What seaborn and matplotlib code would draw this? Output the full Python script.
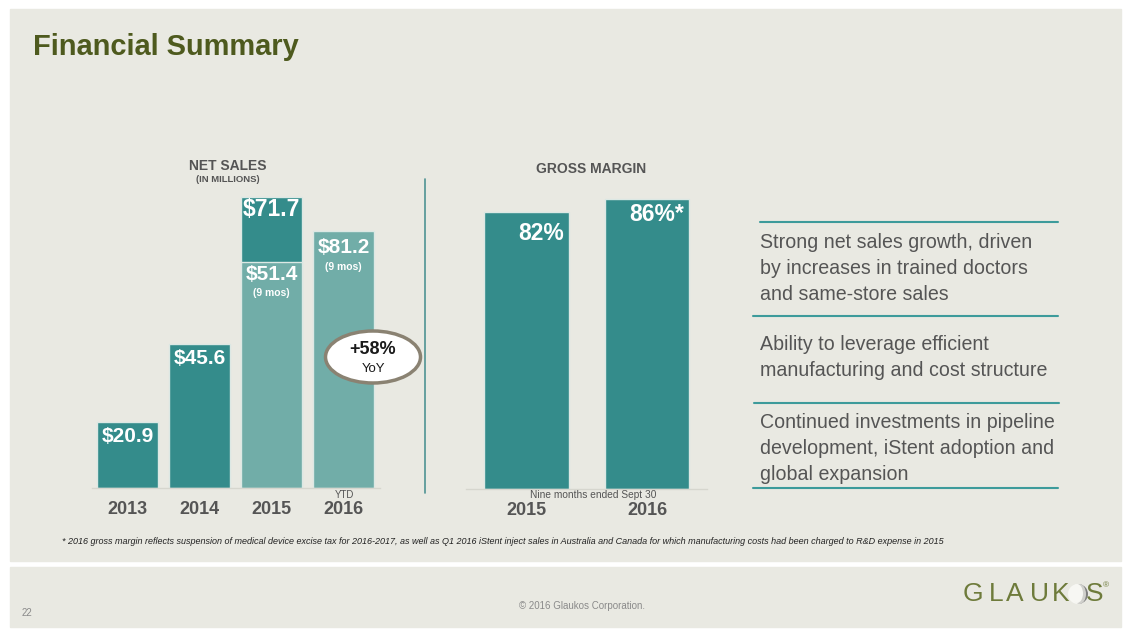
import matplotlib
matplotlib.use("Agg")
import matplotlib.pyplot as plt
import seaborn as sns
import pandas as pd
from matplotlib.patches import Rectangle, Ellipse, Circle, Wedge
from matplotlib.lines import Line2D

# ---------------- data ----------------
ns_years = ["2013", "2014", "2015", "2016"]
ns_labels = ["$20.9", "$45.6", "$71.7", "$81.2"]
# bar heights as drawn in the reference (2015 bars are not to scale there)
ns_drawn = [20.9, 45.6, 92.1, 81.2]
ns9_year = ["2015"]
ns9_label = ["$51.4"]
ns9_drawn = [71.5]
ns_sub_year = ["2015", "2016"]
ns_sub_labels = ["(9 mos)", "(9 mos)"]

gm_years = ["2015", "2016"]
gm_values = [82, 86]
gm_labels = ["82%", "86%*"]

bullets = [
    ["Strong net sales growth, driven", "by increases in trained doctors", "and same-store sales"],
    ["Ability to leverage efficient", "manufacturing and cost structure"],
    ["Continued investments in pipeline", "development, iStent adoption and", "global expansion"],
]
footnote = ("* 2016 gross margin reflects suspension of medical device excise tax for 2016-2017, as well as "
            "Q1 2016 iStent inject sales in Australia and Canada for which manufacturing costs had been "
            "charged to R&D expense in 2015")

# ---------------- style ----------------
sns.set_theme(style="white")
plt.rcParams["font.family"] = ["Liberation Sans", "DejaVu Sans"]

DARK = "#348C8B"
LIGHT = "#71ADA8"
PANEL = "#E9E9E2"
GRAY = "#555555"
TEAL_LINE = "#3D9B9B"

W, H = 1129, 635
fig = plt.figure(figsize=(W / 100, H / 100), dpi=100, facecolor="white")


def fx(px):
    return px / W


def fy(py):
    return 1 - py / H


def pt(px):
    return px * 0.72


# background panels
fig.add_artist(Rectangle((fx(10), fy(561)), fx(1121) - fx(10), fy(9) - fy(561),
                         transform=fig.transFigure, color=PANEL, zorder=-5))
fig.add_artist(Rectangle((fx(10), fy(627)), fx(1121) - fx(10), fy(567) - fy(627),
                         transform=fig.transFigure, color=PANEL, zorder=-5))

# title
fig.text(fx(33), fy(47), "Financial Summary", fontsize=20.9, fontweight="bold",
         color="#4E5A1E", ha="left", va="center")

# ---------------- net sales axes ----------------
ax = fig.add_axes([fx(91.5), fy(488), fx(379.5) - fx(91.5), fy(172) - fy(488)])
ax.patch.set_alpha(0)
df = pd.DataFrame({"year": ns_years, "h": ns_drawn})
sns.barplot(data=df, x="year", y="h", hue="year", order=ns_years,
            palette=[DARK, DARK, DARK, LIGHT], legend=False, width=0.847, saturation=1,
            edgecolor="#DCE8E4", linewidth=1, ax=ax)
df9 = pd.DataFrame({"year": ns9_year, "h": ns9_drawn})
sns.barplot(data=df9, x="year", y="h", order=ns_years, color=LIGHT, saturation=1,
            width=0.847, edgecolor="#DCE8E4", linewidth=1, ax=ax)
ax.set_xlim(-0.5, 3.5)
ax.set_ylim(0, 100)
ax.set_xlabel("")
ax.set_ylabel("")
ax.set_yticks([])
for s in ["top", "left", "right"]:
    ax.spines[s].set_visible(False)
ax.spines["bottom"].set_color("#D6D6CE")
ax.spines["bottom"].set_linewidth(1)
ax.tick_params(axis="x", length=0, pad=pt(13), labelsize=13, labelcolor=GRAY)
for t in ax.get_xticklabels():
    t.set_fontweight("bold")

label_off = [15, 15, 13, 16]
label_size = [15, 15, 16.5, 15]
for i, (lab, h) in enumerate(zip(ns_labels, ns_drawn)):
    ax.annotate(lab, (i, h), xytext=(0, -pt(label_off[i])), textcoords="offset points",
                ha="center", va="center", color="white", fontsize=label_size[i], fontweight="bold")
for yr, lab, h in zip(ns9_year, ns9_label, ns9_drawn):
    i = ns_years.index(yr)
    ax.annotate(lab, (i, h), xytext=(0, -pt(12)), textcoords="offset points",
                ha="center", va="center", color="white", fontsize=15, fontweight="bold")
sub_ref = {"2015": (ns9_drawn[0], 31), "2016": (ns_drawn[3], 36)}
for yr, lab in zip(ns_sub_year, ns_sub_labels):
    i = ns_years.index(yr)
    h, off = sub_ref[yr]
    ax.annotate(lab, (i, h), xytext=(0, -pt(off)), textcoords="offset points",
                ha="center", va="center", color="white", fontsize=7.5, fontweight="bold")

fig.text(fx(345), fy(495), "YTD", fontsize=7, color=GRAY, ha="center", va="center")
fig.text(fx(228), fy(166), "NET SALES", fontsize=10, fontweight="bold", color=GRAY,
         ha="center", va="center")
fig.text(fx(228), fy(180), "(IN MILLIONS)", fontsize=6.8, fontweight="bold", color=GRAY,
         ha="center", va="center")

# YoY ellipse
fig.add_artist(Ellipse((fx(373), fy(357)), fx(95), 52 / H, transform=fig.transFigure,
                       facecolor="white", edgecolor="#8A8272", linewidth=2.5, zorder=5))
fig.text(fx(373), fy(349), "+58%", fontsize=13, fontweight="bold", color="#1A1A1A",
         ha="center", va="center", zorder=6)
fig.text(fx(373), fy(369), "YoY", fontsize=9.5, color="#1A1A1A",
         ha="center", va="center", zorder=6)

# separator
fig.add_artist(Line2D([fx(425), fx(425)], [fy(179), fy(493)], transform=fig.transFigure,
                      color="#4F9393", linewidth=1.2))

# ---------------- gross margin axes ----------------
ax2 = fig.add_axes([fx(466.25), fy(489), fx(707.25) - fx(466.25), fy(151.5) - fy(489)])
ax2.patch.set_alpha(0)
dg = pd.DataFrame({"year": gm_years, "v": gm_values})
sns.barplot(data=dg, x="year", y="v", order=gm_years, color=DARK, saturation=1,
            width=0.705, edgecolor="#DCE8E4", linewidth=1, ax=ax2)
ax2.set_xlim(-0.5, 1.5)
ax2.set_ylim(0, 100)
ax2.set_xlabel("")
ax2.set_ylabel("")
ax2.set_yticks([])
for s in ["top", "left", "right"]:
    ax2.spines[s].set_visible(False)
ax2.spines["bottom"].set_color("#D6D6CE")
ax2.spines["bottom"].set_linewidth(1)
ax2.tick_params(axis="x", length=0, pad=pt(13), labelsize=13, labelcolor=GRAY)
for t in ax2.get_xticklabels():
    t.set_fontweight("bold")
gm_off = [(15, 21), (10, 16)]
for i, (lab, v) in enumerate(zip(gm_labels, gm_values)):
    dx, dy = gm_off[i]
    ax2.annotate(lab, (i, v), xytext=(pt(dx), -pt(dy)), textcoords="offset points",
                 ha="center", va="center", color="white", fontsize=16.5, fontweight="bold")

fig.text(fx(591), fy(169), "GROSS MARGIN", fontsize=10, fontweight="bold", color=GRAY,
         ha="center", va="center")
fig.text(fx(593), fy(495), "Nine months ended Sept 30", fontsize=7.3, color=GRAY,
         ha="center", va="center")

# ---------------- right bullets ----------------
for x0, x1, y in [(760, 1058, 222), (753, 1058, 316), (754, 1059, 403), (753, 1058, 488)]:
    fig.add_artist(Line2D([fx(x0), fx(x1)], [fy(y), fy(y)], transform=fig.transFigure,
                          color=TEAL_LINE, linewidth=1.5))
line_ys = [[242, 268, 294], [345, 370], [422, 448, 474]]
for lines, ys in zip(bullets, line_ys):
    for txt, y in zip(lines, ys):
        fig.text(fx(760), fy(y), txt, fontsize=14.1, color=GRAY, ha="left", va="center")

# ---------------- footnote & footer ----------------
fig.text(fx(62), fy(542), footnote, fontsize=6.5, fontstyle="italic", color="#222222",
         ha="left", va="center")
fig.text(fx(22), fy(613), "22", fontsize=7, color="#8A8A8A", ha="left", va="center")
fig.text(fx(582), fy(606), "\u00a9 2016 Glaukos Corporation.", fontsize=7, color="#8A8A8A",
         ha="center", va="center")

# logo
LOGO = "#6E7B3B"
for ch, xc in [("G", 973), ("L", 996), ("A", 1015), ("U", 1039), ("K", 1061), ("S", 1095)]:
    fig.text(fx(xc), fy(594), ch, fontsize=19, color=LOGO, ha="center", va="center")
axl = fig.add_axes([fx(1067), fy(605), 22 / W, 22 / H])
axl.set_xlim(-1.1, 1.1)
axl.set_ylim(-1.1, 1.1)
axl.set_aspect("equal")
axl.axis("off")
axl.add_patch(Circle((0, 0), 1, facecolor="#F7F7F3", edgecolor="none"))
axl.add_patch(Wedge((0, 0), 1, -80, 80, facecolor="#7E7E7E", edgecolor="none"))
axl.add_patch(Ellipse((0.15, 0), 1.3, 2.0, facecolor="#D0D0CC", edgecolor="none"))
axl.add_patch(Ellipse((-0.1, 0.05), 1.2, 1.9, facecolor="#F7F7F3", edgecolor="none"))
fig.text(fx(1106), fy(586), "\u00ae", fontsize=6, color=LOGO, ha="center", va="center")

fig.savefig("out.png", dpi=100, facecolor="white")
